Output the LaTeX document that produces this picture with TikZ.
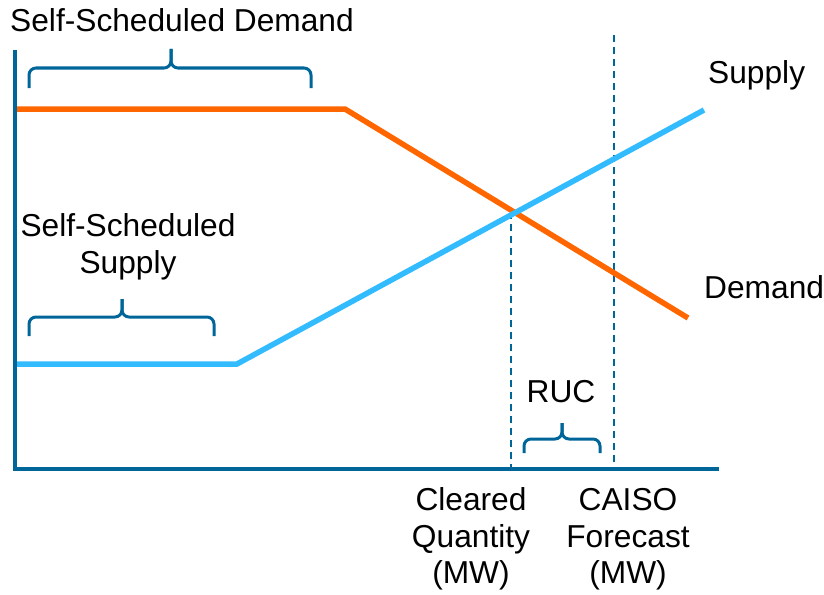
\documentclass[tikz,border=0pt]{standalone}
\usepackage{fontspec}
\setmainfont{Liberation Sans}
\definecolor{axisblue}{RGB}{0,102,153}
\definecolor{demorange}{RGB}{255,102,0}
\definecolor{suplblue}{RGB}{51,187,255}
\begin{document}
\begin{tikzpicture}[x=1pt,y=-1pt,
  axisline/.style={draw=axisblue,line width=4pt},
  curve/.style={line width=5.5pt},
  guide/.style={draw=axisblue,line width=1.8pt,dash pattern=on 7pt off 5pt},
  brace/.style={draw=axisblue,line width=3pt,rounded corners=7pt},
  lbl/.style={inner sep=0pt,font=\fontsize{31.7}{37}\selectfont,text=black}]
\useasboundingbox (0,0) rectangle (824,594);
% axes
\coordinate (ytop) at (15,50);
\coordinate (orig) at (15,469);
\coordinate (xend) at (719,469);
\draw[axisline] (ytop) -- (orig) -- (xend);
% guides
\coordinate (cq) at (511,212);
\coordinate (cqb) at (511,467);
\coordinate (cf) at (614,35);
\coordinate (cfb) at (614,467);
\draw[guide] (cq) -- (cqb);
\draw[guide] (cf) -- (cfb);
% demand
\coordinate (d0) at (17,109);
\coordinate (d1) at (345,109);
\coordinate (d2) at (688,318);
\draw[curve,demorange] (d0) -- (d1) -- (d2);
% supply
\coordinate (s0) at (17,364);
\coordinate (s1) at (237,364);
\coordinate (s2) at (704,110);
\draw[curve,suplblue] (s0) -- (s1) -- (s2);
% braces
\draw[brace] (29,88) -- (29,68) -- (171,68) -- (171,49);
\draw[brace] (311,88) -- (311,68) -- (171,68) -- (171,49);
\draw[brace] (29,336) -- (29,317) -- (122,317) -- (122,299);
\draw[brace] (214,336) -- (214,317) -- (122,317) -- (122,299);
\draw[brace] (524,453) -- (524,439) -- (562,439) -- (562,423);
\draw[brace] (600,453) -- (600,439) -- (562,439) -- (562,423);
% labels
\node[lbl,anchor=base west] (ssd) at (10,32) {Self-Scheduled Demand};
\node[lbl,anchor=base west] (sup) at (708,83) {Supply};
\node[lbl,anchor=base west] (dem) at (704,298) {Demand};
\node[lbl,anchor=base] (sss1) at (128,236) {Self-Scheduled};
\node[lbl,anchor=base] (sss2) at (128,273) {Supply};
\node[lbl,anchor=base] (ruc) at (561,402) {RUC};
\node[lbl,anchor=base] (cq1) at (471,510) {Cleared};
\node[lbl,anchor=base] (cq2) at (471,547) {Quantity};
\node[lbl,anchor=base] (cq3) at (471,583) {(MW)};
\node[lbl,anchor=base] (cf1) at (628,510) {CAISO};
\node[lbl,anchor=base] (cf2) at (628,547) {Forecast};
\node[lbl,anchor=base] (cf3) at (628,583) {(MW)};
\end{tikzpicture}
\end{document}
